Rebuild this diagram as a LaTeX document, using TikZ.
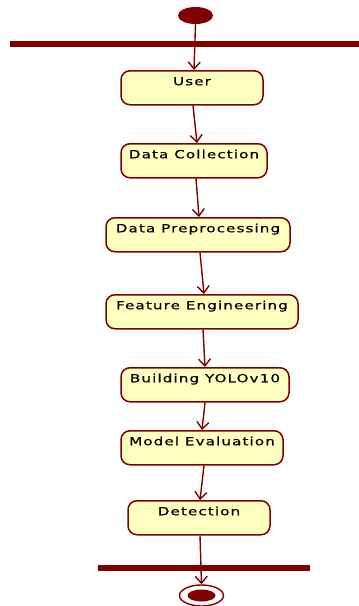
\documentclass[tikz,border=0pt]{standalone}
\usepackage{fontspec}
\setmainfont{DejaVu Sans}[FakeStretch=1.35,LetterSpace=10,FakeBold=0.6]
\usetikzlibrary{arrows.meta,shapes.geometric}
\definecolor{umlline}{HTML}{800000}
\definecolor{umlfill}{HTML}{FFFFC0}
\tikzset{
  activity/.style={draw=umlline, fill=umlfill, line width=1.5pt, rounded corners=9pt,
    inner xsep=0pt, inner ysep=0pt, text height=14.5pt, text depth=19.5pt,
    font=\fontsize{11.2}{13}\selectfont, text=black},
  flow/.style={draw=umlline, line width=1.4pt, -{Straight Barb[length=7pt,width=12pt,line width=1.4pt]}},
  syncbar/.style={fill=umlline, draw=none},
}
\begin{document}
\begin{tikzpicture}[x=1pt,y=-1pt]
  \useasboundingbox (0,0) rectangle (359,606);
  % initial state and fork bar
  \node[ellipse, fill=umlline, minimum width=35pt, minimum height=17pt, inner sep=0pt] (start) at (195.5,15.5) {};
  \path[syncbar] (10,41) rectangle (359,46.5);
  % activities
  \node[activity, minimum width=142pt] (user) at (192,70) [anchor=north] {User};
  \node[activity, minimum width=146pt] (dc) at (194,143) [anchor=north] {Data Collection};
  \node[activity, minimum width=184pt] (dp) at (198,217) [anchor=north] {Data Preprocessing};
  \node[activity, minimum width=192pt] (fe) at (202,294) [anchor=north] {Feature Engineering};
  \node[activity, minimum width=168pt] (by) at (205,367) [anchor=north] {Building YOLOv10};
  \node[activity, minimum width=162pt] (me) at (202,430) [anchor=north] {Model Evaluation};
  \node[activity, minimum width=142pt] (det) at (199,500) [anchor=north] {Detection};
  % join bar and final state
  \path[syncbar] (98,565) rectangle (310,571);
  \node[ellipse, draw=umlline, line width=1.4pt, fill=white, minimum width=44pt, minimum height=21pt, inner sep=0pt] (end) at (201.5,595.5) {};
  \node[ellipse, fill=umlline, minimum width=28pt, minimum height=12pt, inner sep=0pt] (endcore) at (201.5,595.5) {};
  % control flow
  \draw[flow] (start.south) -- ([xshift=2pt]user.north);
  \draw[flow] ([xshift=1pt]user.south) -- ([xshift=3pt]dc.north);
  \draw[flow] ([xshift=2pt]dc.south) -- ([xshift=1pt]dp.north);
  \draw[flow] ([xshift=2pt]dp.south) -- ([xshift=2pt]fe.north);
  \draw[flow] ([xshift=1pt]fe.south) -- (by.north);
  \draw[flow] (by.south) -- (me.north);
  \draw[flow] ([xshift=2pt]me.south) -- ([xshift=1pt]det.north);
  \draw[flow] ([xshift=1pt]det.south) -- (end.north);
\end{tikzpicture}
\end{document}
